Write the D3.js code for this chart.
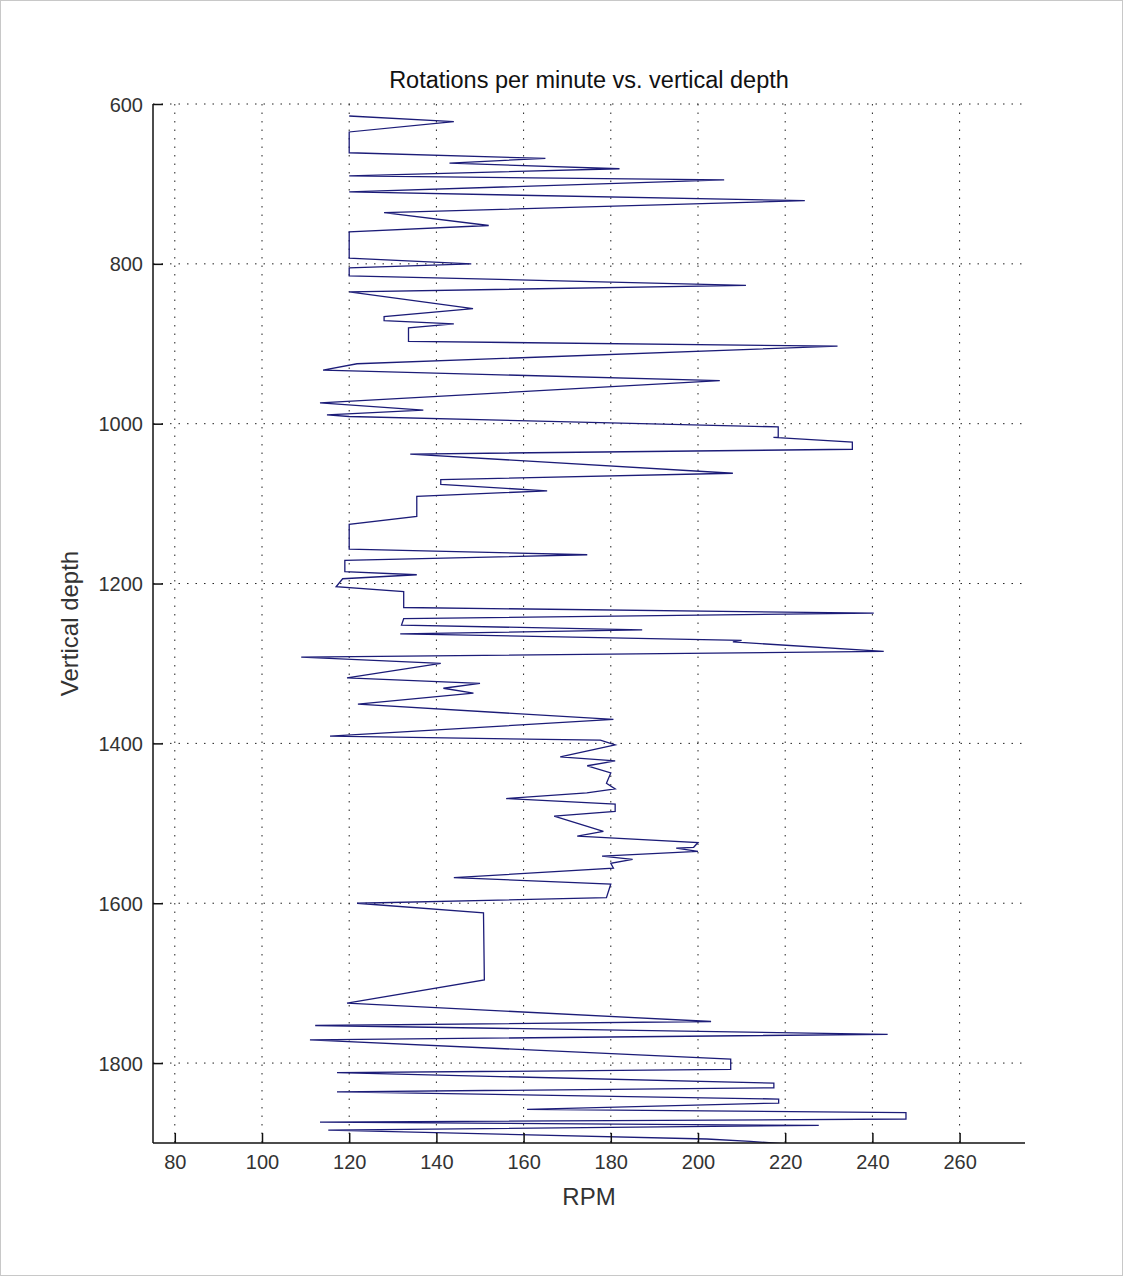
<!DOCTYPE html>
<html>
<head>
<meta charset="utf-8">
<script src="https://cdn.jsdelivr.net/npm/d3@7"></script>
<style>
  body { margin: 0; background: #fff; }
  svg { display: block; font-family: "Liberation Sans", Arial, sans-serif; }
</style>
</head>
<body>
<svg id="chart" width="1124" height="1277"></svg>
<script>
// trace, top to bottom (rpm, vertical depth)
var rpm = [120, 144, 120, 120, 165, 143, 182, 120, 206, 120, 224.5, 128, 152, 120, 120, 148, 120, 120,
    211, 120, 148.4, 128, 128, 144, 133.6, 133.6, 232, 121.8, 114, 205, 113.3, 137, 114.9, 120,
    218.4, 218.4, 217.3, 235.4, 235.4, 134, 208, 141, 141, 165.4, 135.5, 135.5, 120, 120, 174.6, 119,
    119, 135.5, 118.5, 117, 132.5, 132.5, 240.3, 132.5, 132, 187.2, 131.7, 210, 208, 242.6, 109, 141,
    119.5, 150, 141.6, 148.5, 122, 180.6, 115.6, 177.6, 181, 168.4, 181, 174.6, 180, 179, 181, 174.5,
    156, 181, 181, 167, 178.3, 172.3, 200, 199, 195, 200, 178, 185, 180, 180.6, 144, 180, 179,
    121.8, 150.8, 151, 119.5, 203, 112.2, 243.5, 111, 207.5, 207.5, 117.2, 217.4, 217.4, 117.2,
    218.5, 218.5, 160.8, 247.7, 247.7, 113.3, 227.7, 115.2, 202, 212, 220]
var depth = [615, 622, 635, 661, 668, 674, 681, 690, 695, 710, 721, 736, 752, 760, 793, 800, 805, 815,
    827, 835, 856, 866, 871, 875, 880, 897, 903, 925, 933, 946, 974, 983, 989, 991,
    1004, 1017, 1017, 1023, 1032, 1038, 1062, 1070, 1076, 1084, 1091, 1116, 1126, 1157, 1164, 1171,
    1185, 1189, 1194, 1204, 1210, 1230, 1237, 1244, 1252, 1258, 1263, 1271, 1273, 1285, 1292, 1300,
    1318, 1325, 1331, 1337, 1351, 1370, 1391, 1396, 1402, 1417, 1422, 1428, 1437, 1450, 1457, 1462,
    1469, 1476, 1485, 1491, 1510, 1516, 1524, 1530, 1531, 1535, 1541, 1545, 1550, 1556, 1568, 1576, 1593,
    1600, 1612, 1696, 1725, 1748, 1753, 1764, 1771, 1795, 1808, 1812, 1825, 1831, 1836,
    1845, 1850, 1858, 1862, 1870, 1874, 1878, 1884, 1895, 1898, 1901]

var xTicks = [80, 100, 120, 140, 160, 180, 200, 220, 240, 260]
var yTicks = [600, 800, 1000, 1200, 1400, 1600, 1800]

var svg = d3.select("#chart")
var margin = { left: 153, right: 1025, top: 104, bottom: 1143 }

// light frame around the figure
svg.append("rect")
    .attr("x", 0.5).attr("y", 0.5)
    .attr("width", 1122).attr("height", 1275)
    .attr("fill", "#fff")
    .attr("stroke", "#c8c8c8")

var x = d3.scaleLinear().domain([75, 275]).range([margin.left, margin.right])
var y = d3.scaleLinear().domain([600, 1900]).range([margin.top, margin.bottom])

// dotted grid
svg.append("g").selectAll("line").data(xTicks).join("line")
    .attr("x1", d => x(d)).attr("x2", d => x(d))
    .attr("y1", margin.top).attr("y2", margin.bottom)
    .attr("stroke", "#222").attr("stroke-width", 1)
    .attr("stroke-dasharray", "1.5,7")
svg.append("g").selectAll("line").data(yTicks).join("line")
    .attr("y1", d => y(d)).attr("y2", d => y(d))
    .attr("x1", margin.left).attr("x2", margin.right)
    .attr("stroke", "#222").attr("stroke-width", 1)
    .attr("stroke-dasharray", "1.5,7")

svg.append("clipPath").attr("id", "clip")
    .append("rect")
    .attr("x", margin.left).attr("y", margin.top)
    .attr("width", margin.right - margin.left)
    .attr("height", margin.bottom - margin.top)

var points = d3.zip(rpm, depth)
var line = d3.line().x(d => x(d[0])).y(d => y(d[1]))

svg.append("path")
    .datum(points)
    .attr("clip-path", "url(#clip)")
    .attr("d", line)
    .attr("fill", "none")
    .attr("stroke", "#1c1c78")
    .attr("stroke-width", 1.3)
    .attr("stroke-linejoin", "miter")

// axes with inward ticks (left and bottom only)
var xAxis = d3.axisBottom(x).tickValues(xTicks).tickFormat(d3.format("d")).tickSize(-10).tickPadding(14)
var yAxis = d3.axisLeft(y).tickValues(yTicks).tickFormat(d3.format("d")).tickSize(-10).tickPadding(10)

var gx = svg.append("g")
    .attr("transform", `translate(0,${margin.bottom})`)
    .call(xAxis)
gx.select(".domain").attr("d", `M${margin.left},0H${margin.right}`)
var gy = svg.append("g")
    .attr("transform", `translate(${margin.left},0)`)
    .call(yAxis)
gy.select(".domain").attr("d", `M0,${margin.top}V${margin.bottom}`)

svg.selectAll(".domain").attr("stroke", "#111").attr("stroke-width", 1.5)
svg.selectAll(".tick line").attr("stroke", "#111").attr("stroke-width", 1.5)
svg.selectAll(".tick text")
    .attr("font-family", "Liberation Sans, Arial, sans-serif")
    .attr("font-size", 20)
    .attr("fill", "#333")
gy.selectAll(".tick text").attr("dy", "0.35em")
gx.selectAll(".tick text").attr("dy", "0.6em")

svg.append("text")
    .attr("x", (margin.left + margin.right) / 2)
    .attr("y", 88)
    .attr("text-anchor", "middle")
    .attr("font-size", 23.5)
    .attr("fill", "#111")
    .text("Rotations per minute vs. vertical depth")

svg.append("text")
    .attr("x", (margin.left + margin.right) / 2)
    .attr("y", 1205)
    .attr("text-anchor", "middle")
    .attr("font-size", 24)
    .attr("fill", "#333")
    .text("RPM")

svg.append("text")
    .attr("transform", `translate(78,${(margin.top + margin.bottom) / 2}) rotate(-90)`)
    .attr("text-anchor", "middle")
    .attr("font-size", 24)
    .attr("fill", "#333")
    .text("Vertical depth")
</script>
</body>
</html>
